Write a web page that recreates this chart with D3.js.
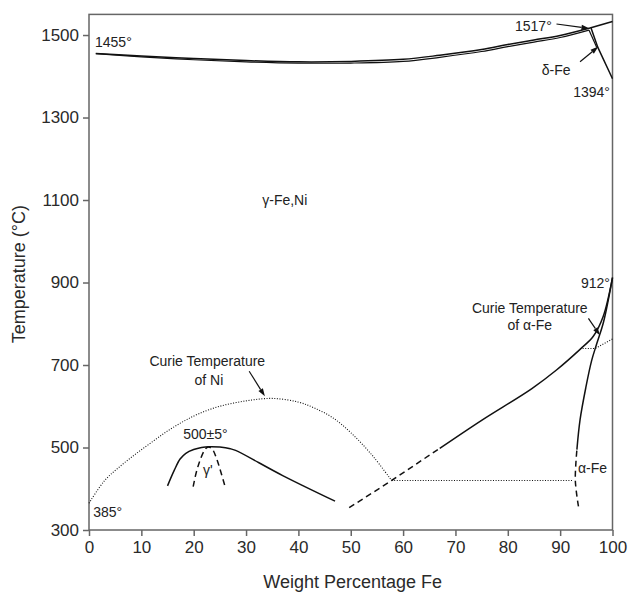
<!DOCTYPE html>
<html>
<head>
<meta charset="utf-8">
<script src="https://cdn.jsdelivr.net/npm/d3@7"></script>
<style>
  html, body { margin: 0; padding: 0; background: #fff; }
  svg { display: block; font-family: "Liberation Sans", Arial, Helvetica, sans-serif; }
  .axis path, .axis line { stroke: #666; stroke-width: 1.5; }
  .axis text { fill: #2a2a2a; font-size: 17px; }
  .note { fill: #222; font-size: 14px; }
</style>
</head>
<body>
<svg id="chart" width="634" height="603"></svg>
<script>
// Fe–Ni phase diagram: temperature (°C) against weight percentage Fe

const xTicks = [0, 10, 20, 30, 40, 50, 60, 70, 80, 90, 100];
const yTicks = [300, 500, 700, 900, 1100, 1300, 1500];

// [wt% Fe, °C]
const liquidus = [[1.3,1455],[10,1449],[20,1443],[30,1438],[40,1435],[50,1436],[60,1441],[67,1451],[75,1465],[80,1477],[85,1488],[90,1499],[95.7,1517]];
const solidus = [[1.3,1455],[10,1447],[20,1440],[30,1435],[40,1432],[50,1432],[60,1436],[67,1446],[75,1460],[80,1472],[85,1483],[90,1494],[95.5,1512]];
const deltaLiquidus = [[95.7,1517],[100,1533]];
const deltaInner = [[95.5,1512],[97.0,1470]];
const deltaOuter = [[95.9,1517],[97.2,1470],[100,1394]];

const curieNi = [[0,365],[3,420],[6,455],[9,485],[12,513],[15,540],[18,563],[21,582],[25,600],[30,613],[35,619],[40,610],[43,596],[46.7,571],[50.5,530],[54.3,478],[57.8,420]];
const curieNiFlat = [[57.8,420],[92.4,420]];
const curieAlpha = [[93.8,740],[96.7,740],[100,763]];

const gammaPrimeSolid = [[15,407],[16.3,445],[17.4,472],[18.5,486],[20,495],[21.5,500],[23,502],[25,501],[27,497],[28,493],[37,432],[47,370]];
const gammaPrimeDome = [[19.9,405],[20.5,440],[21.3,472],[22.2,496],[22.8,501],[23.5,497],[24.4,472],[25.2,440],[26,405]];

const gammaBoundaryDashed = [[49.7,354],[57.8,420],[67,498]];
const gammaBoundary = [[67,498],[75,566],[84.6,643],[89.3,688],[93.8,738],[96.3,769],[98.2,817],[100,912]];
const alphaBoundaryDashed = [[93.5,357],[92.9,420],[93.2,495]];
const alphaBoundary = [[93.2,495],[93.8,567],[94.9,645],[96.0,710],[97.0,752],[98.3,805],[100,912]];

const svg = d3.select("#chart");
const x = d3.scaleLinear().domain([0, 100]).range([89, 612.5]);
const y = d3.scaleLinear().domain([300, 1550]).range([530, 14.4]);

// plot frame
svg.append("rect")
  .attr("x", x(0)).attr("y", y(1550))
  .attr("width", x(100) - x(0)).attr("height", y(300) - y(1550))
  .attr("fill", "none").attr("stroke", "#666").attr("stroke-width", 1.5);

const xAxis = svg.append("g").attr("class", "axis")
  .attr("transform", `translate(0,${y(300)})`)
  .call(d3.axisBottom(x).tickValues(xTicks).tickSize(6).tickPadding(5).tickFormat(d3.format("d")));
const yAxis = svg.append("g").attr("class", "axis")
  .attr("transform", `translate(${x(0)},0)`)
  .call(d3.axisLeft(y).tickValues(yTicks).tickSize(6).tickPadding(4).tickFormat(d3.format("d")));
xAxis.select(".domain").remove();
yAxis.select(".domain").remove();

svg.append("text")
  .attr("x", (x(0) + x(100)) / 2 + 2).attr("y", 588)
  .attr("text-anchor", "middle").attr("fill", "#2a2a2a").attr("font-size", 18)
  .text("Weight Percentage Fe");
svg.append("text")
  .attr("transform", `translate(25,${(y(300) + y(1550)) / 2 + 2}) rotate(-90)`)
  .attr("text-anchor", "middle").attr("fill", "#2a2a2a").attr("font-size", 18)
  .text("Temperature (°C)");

const smooth = d3.line().x(d => x(d[0])).y(d => y(d[1])).curve(d3.curveCatmullRom.alpha(0.5));
const straight = d3.line().x(d => x(d[0])).y(d => y(d[1]));

function draw(data, gen, opts) {
  svg.append("path")
    .attr("d", gen(data))
    .attr("fill", "none")
    .attr("stroke", "#111")
    .attr("stroke-width", opts.w || 1.5)
    .attr("stroke-dasharray", opts.dash || null)
    .attr("stroke-linejoin", "round");
}

const SOLID = {};
const DASH = { dash: "6,4" };
const DOT = { w: 1.1, dash: "1,1.6" };

draw(liquidus, smooth, SOLID);
draw(solidus, smooth, { w: 1.2 });
draw(deltaLiquidus, straight, SOLID);
draw(deltaInner, straight, { w: 1.2 });
draw(deltaOuter, straight, SOLID);

draw(curieNi, smooth, DOT);
draw(curieNiFlat, straight, DOT);
draw(curieAlpha, straight, DOT);

draw(gammaPrimeSolid, smooth, SOLID);
draw(gammaPrimeDome, smooth, DASH);

draw(gammaBoundaryDashed, straight, DASH);
draw(gammaBoundary, smooth, SOLID);
draw(alphaBoundaryDashed, smooth, { dash: "6,4" });
draw(alphaBoundary, smooth, SOLID);

// annotation text
function note(txt, px, py, anchor) {
  svg.append("text").attr("class", "note")
    .attr("x", x(px)).attr("y", y(py))
    .attr("text-anchor", anchor || "start")
    .text(txt);
}
note("1455°", 1.15, 1472);
note("1517°", 88.4, 1510, "end");
note("δ-Fe", 86.5, 1403);
note("1394°", 99.5, 1350, "end");
note("γ-Fe,Ni", 37.4, 1088, "middle");
note("912°", 99.5, 887, "end");
note("Curie Temperature", 84.2, 826, "middle");
note("of α-Fe", 84.2, 784, "middle");
note("Curie Temperature", 22.6, 698, "middle");
note("of Ni", 22.9, 652, "middle");
note("500±5°", 22.25, 521, "middle");
note("γ'", 22.7, 433, "middle");
note("385°", 0.8, 331);
note("α-Fe", 93.4, 438);

// pointer arrows
function arrow(x1, y1, x2, y2) {
  const ax = x(x1), ay = y(y1), bx = x(x2), by = y(y2);
  const ang = Math.atan2(by - ay, bx - ax);
  const len = 8, half = 2.6;
  const bxs = bx - len * Math.cos(ang), bys = by - len * Math.sin(ang);
  svg.append("line")
    .attr("x1", ax).attr("y1", ay).attr("x2", bxs).attr("y2", bys)
    .attr("stroke", "#111").attr("stroke-width", 1.2);
  const p1 = [bxs + half * Math.sin(ang), bys - half * Math.cos(ang)];
  const p2 = [bxs - half * Math.sin(ang), bys + half * Math.cos(ang)];
  svg.append("path")
    .attr("d", `M${bx},${by}L${p1[0]},${p1[1]}L${p2[0]},${p2[1]}Z`)
    .attr("fill", "#111");
}
arrow(89.3, 1526.7, 95.6, 1516);
arrow(93.8, 1435, 97.3, 1472);
arrow(30.6, 685, 33.6, 624);
arrow(95.4, 813, 97.6, 772);
</script>
</body>
</html>
